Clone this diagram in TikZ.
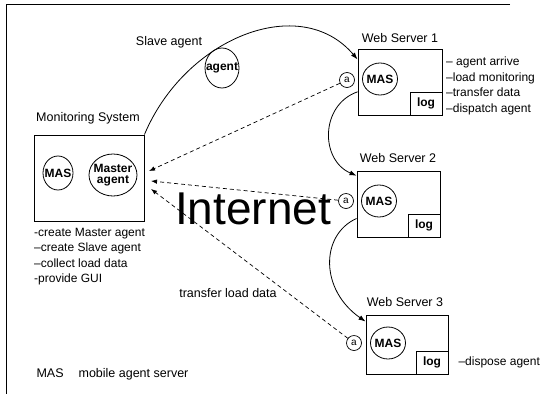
\documentclass[tikz,border=0pt]{standalone}
\usepackage{fontspec}
\setmainfont{Liberation Sans}
\usetikzlibrary{shapes.geometric,arrows.meta}

\tikzset{
  every node/.style={font=\fontsize{12.5}{15}\selectfont},
  serverbox/.style={draw, line width=0.9pt, inner sep=0pt},
  agentring/.style={draw, ellipse, line width=0.8pt, inner sep=0pt},
  ringtext/.style={font=\bfseries\fontsize{12}{11}\selectfont, inner sep=0pt, align=center},
  portnode/.style={draw, circle, line width=0.7pt, inner sep=0pt, minimum size=15pt, font=\fontsize{10}{10}\selectfont},
  logbox/.style={draw, line width=0.9pt, anchor=south east, minimum width=32pt, minimum height=23pt, inner sep=0pt, font=\bfseries\fontsize{12}{12}\selectfont},
  notes/.style={align=left, anchor=north west, inner sep=0pt, font=\fontsize{12}{15.5}\selectfont},
  report/.style={-{Latex[length=6pt,width=4.5pt]}, line width=0.7pt, dash pattern=on 4pt off 3pt},
  hop/.style={-{Latex[length=7pt,width=5pt]}, line width=0.8pt}
}

\begin{document}
\begin{tikzpicture}[x=1pt,y=-1pt]
  \useasboundingbox (0,0) rectangle (559,394);
  % frame
  \draw[line width=0.8pt] (510,4) -- (6,4) -- (6,394);

  % monitoring system
  \node[serverbox, minimum width=110pt, minimum height=86pt] (ms) at (89,178) {};
  \node (mstitle) at (88,118) {Monitoring System};
  \node[agentring, minimum width=30pt, minimum height=34pt, label={[ringtext]center:MAS}] (msmas) at (58,173) {};
  \node[agentring, minimum width=48pt, minimum height=42pt, label={[ringtext]center:Master\\agent}] (master) at (113,175) {};
  \node[notes] (mstasks) at (34,228) {-create Master agent\\--create Slave agent\\--collect load data\\-provide GUI};

  % slave agent on its way
  \node (slavetitle) at (169,42) {Slave agent};
  \node[agentring, minimum width=34pt, minimum height=40pt, label={[ringtext]center:agent}] (slave) at (222,68) {};

  % web server 1
  \node[serverbox, minimum width=84pt, minimum height=66pt] (ws1) at (400,82) {};
  \node (ws1title) at (400,38) {Web Server 1};
  \node[agentring, minimum width=35pt, minimum height=32pt, label={[ringtext]center:MAS}] (ws1mas) at (380,79) {};
  \node[portnode] (ws1port) at (347,80) {a};
  \node[logbox] (ws1log) at (ws1.south east) {log};
  \node[notes] (ws1tasks) at (446,57) {-- agent arrive\\--load monitoring\\--transfer data\\--dispatch agent};

  % web server 2
  \node[serverbox, minimum width=83pt, minimum height=66pt] (ws2) at (398.5,204) {};
  \node (ws2title) at (398,158) {Web Server 2};
  \node[agentring, minimum width=35pt, minimum height=32pt, label={[ringtext]center:MAS}] (ws2mas) at (379,201) {};
  \node[portnode] (ws2port) at (346,201) {a};
  \node[logbox] (ws2log) at (ws2.south east) {log};

  % web server 3
  \node[serverbox, minimum width=82pt, minimum height=59pt] (ws3) at (407,344.5) {};
  \node (ws3title) at (405,302) {Web Server 3};
  \node[agentring, minimum width=35pt, minimum height=32pt, label={[ringtext]center:MAS}] (ws3mas) at (388,343) {};
  \node[portnode] (ws3port) at (354,343) {a};
  \node[logbox] (ws3log) at (ws3.south east) {log};
  \node[anchor=west, font=\fontsize{12}{14}\selectfont] (ws3tasks) at (455,362) {--dispose agent};

  \node[font=\fontsize{46}{46}\selectfont, anchor=base west, inner sep=0pt] (net) at (175,224) {Internet};
  \node (transfer) at (228,293) {transfer load data};
  \node[anchor=west] (legend) at (33,374) {MAS\hspace{15pt}mobile agent server};

  % load data back to the master
  \coordinate (in1) at (149,171);
  \coordinate (in2) at (151,181);
  \coordinate (in3) at (151,189);
  \draw[report] (ws1port) -- (in1);
  \draw[report] (ws2port) -- (in2);
  \draw[report] (ws3port) -- (in3);

  % agent route
  \draw[hop] (ms.north east) .. controls (185,38) and (300,-8) .. (ws1.152);
  \draw[hop] (ws1.193) .. controls (320,105) and (320,160) .. (ws2.146);
  \draw[hop] (ws2.199) .. controls (320,235) and (320,290) .. (ws3.151);
\end{tikzpicture}
\end{document}
